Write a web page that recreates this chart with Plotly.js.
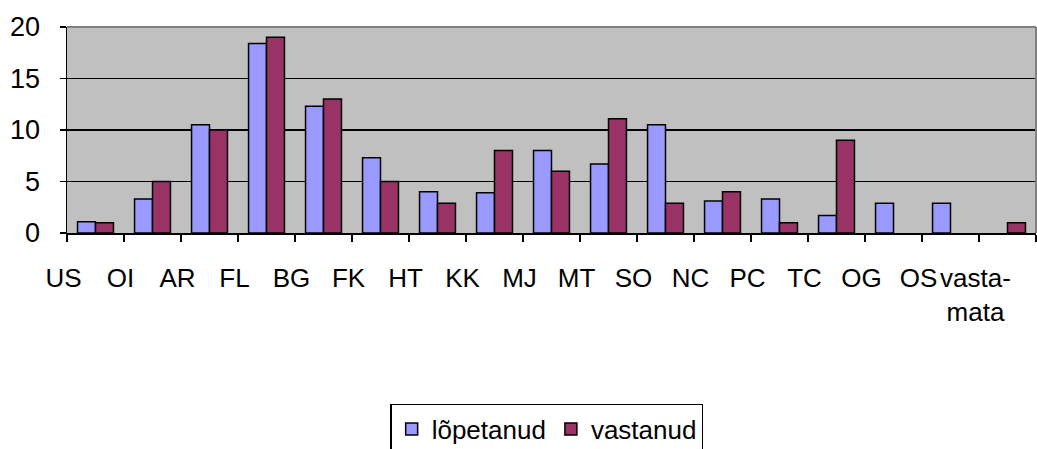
<!DOCTYPE html>
<html>
<head>
<meta charset="utf-8">
<script src="https://cdn.plot.ly/plotly-3.0.1.min.js"></script>
<style>html,body{margin:0;padding:0;background:#fff;}#chart{width:1037px;height:449px;}</style>
</head>
<body>
<div id="chart"></div>
<script>
const categories = ["US","OI","AR","FL","BG","FK","HT","KK","MJ","MT","SO","NC","PC","TC","OG","OS","vasta-<br>mata"];
const lopetanud = [1.1, 3.3, 10.5, 18.4, 12.3, 7.3, 4.0, 3.9, 8.0, 6.7, 10.5, 3.1, 3.3, 1.7, 2.9, 2.9, null];
const vastanud  = [1.0, 5.0, 10.0, 19.0, 13.0, 5.0, 2.9, 8.0, 6.0, 11.1, 2.9, 4.0, 1.0, 9.0, null, null, 1.0];
const seriesNames = ["lõpetanud", "vastanud"];
const yTicks = [0, 5, 10, 15, 20];

const FONT = "Liberation Sans, Arial, sans-serif";
const traces = [
  {type: "bar", name: seriesNames[0], x: categories, y: lopetanud,
   marker: {color: "#9999FF", line: {color: "#000000", width: 1.5}}},
  {type: "bar", name: seriesNames[1], x: categories, y: vastanud,
   marker: {color: "#993366", line: {color: "#000000", width: 1.5}}}
];
const layout = {
  width: 1037, height: 449,
  margin: {l: 67, r: 1, t: 27, b: 216, pad: 0, autoexpand: false},
  paper_bgcolor: "#ffffff",
  plot_bgcolor: "#C0C0C0",
  barmode: "group",
  bargap: 0.37,
  bargroupgap: 0,
  showlegend: true,
  font: {family: FONT, size: 26, color: "#000"},
  xaxis: {
    type: "category",
    tickson: "boundaries",
    ticks: "outside", ticklen: 7, tickwidth: 1.5, tickcolor: "#000",
    showline: true, linecolor: "#000", linewidth: 1.5,
    showgrid: false,
    automargin: false,
    ticklabelshift: -32,
    ticklabelstandoff: 21,
    tickangle: 0,
    tickfont: {family: FONT, size: 26, color: "#000"}
  },
  yaxis: {
    range: [0, 20],
    tickvals: yTicks,
    ticks: "outside", ticklen: 6, tickwidth: 1.5, tickcolor: "#000",
    showline: true, linecolor: "#000", linewidth: 1.5,
    showgrid: true, gridcolor: "#000", gridwidth: 1.5,
    zeroline: false,
    automargin: false,
    ticklabelstandoff: 14,
    tickfont: {family: FONT, size: 27, color: "#000"}
  },
  legend: {
    orientation: "h",
    x: 0.495, xanchor: "center",
    y: -0.83, yanchor: "top",
    bordercolor: "#000", borderwidth: 1.5,
    bgcolor: "#fff",
    font: {family: FONT, size: 26, color: "#000"},
    itemwidth: 30,
    tracegroupgap: 0
  },
  shapes: [
    {type: "line", xref: "paper", yref: "paper", x0: 0, x1: 1, y0: 1, y1: 1, line: {color: "#808080", width: 2}, layer: "above"},
    {type: "line", xref: "paper", yref: "paper", x0: 1, x1: 1, y0: 0, y1: 1, line: {color: "#808080", width: 2}, layer: "above"}
  ]
};
Plotly.newPlot("chart", traces, layout, {displayModeBar: false, staticPlot: true});
</script>
</body>
</html>
